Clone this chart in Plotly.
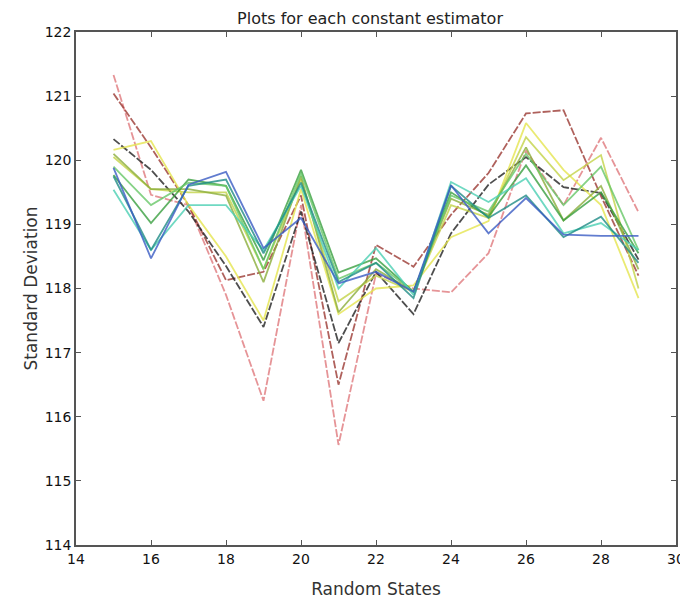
import plotly.graph_objects as go

random_states = list(range(15, 30))

pink = [121.33, 119.46, 119.3, 117.9, 116.25, 119.3, 115.56, 118.23, 118.0, 117.94, 118.55, 120.15, 119.3, 120.35, 119.19]
dark_red = [121.04, 120.2, 119.3, 118.13, 118.26, 119.45, 116.5, 118.68, 118.34, 119.15, 119.8, 120.73, 120.78, 119.44, 118.2]
black = [120.33, 119.85, 119.2, 118.35, 117.4, 119.2, 117.15, 118.26, 117.6, 118.86, 119.62, 120.05, 119.58, 119.49, 118.45]
yellow = [120.16, 120.3, 119.3, 118.5, 117.5, 119.55, 117.6, 118.0, 118.05, 118.8, 119.05, 120.58, 119.85, 119.3, 117.85]
khaki = [120.05, 119.55, 119.5, 119.5, 118.3, 119.7, 117.8, 118.2, 117.95, 119.3, 119.1, 120.36, 119.69, 120.08, 118.0]
olive = [120.1, 119.55, 119.55, 119.45, 118.1, 119.75, 117.63, 118.3, 117.95, 119.4, 119.15, 120.2, 119.06, 119.6, 118.3]
green = [119.77, 119.02, 119.7, 119.6, 118.44, 119.85, 118.25, 118.47, 117.95, 119.5, 119.12, 119.92, 119.06, 119.5, 118.55]
light_green = [119.9, 119.3, 119.65, 119.6, 118.3, 119.8, 118.15, 118.4, 117.95, 119.45, 119.2, 120.1, 119.3, 119.9, 118.6]
teal = [119.54, 118.6, 119.3, 119.3, 118.6, 119.6, 118.0, 118.63, 117.9, 119.66, 119.35, 119.72, 118.86, 119.02, 118.6]
dark_teal = [119.75, 118.6, 119.6, 119.7, 118.55, 119.65, 118.1, 118.4, 117.85, 119.6, 119.1, 119.45, 118.8, 119.12, 118.4]
blue = [119.88, 118.47, 119.62, 119.82, 118.63, 119.1, 118.08, 118.26, 117.95, 119.61, 118.86, 119.41, 118.84, 118.82, 118.82]

series = [
    ("pink", pink, "#e07a7e", "8px,2px"),
    ("dark red", dark_red, "#9c3a34", "8px,2px"),
    ("black", black, "#222222", "8px,2px"),
    ("yellow", yellow, "#e6e650", "solid"),
    ("khaki", khaki, "#c4d448", "solid"),
    ("olive", olive, "#8cae3c", "solid"),
    ("green", green, "#3aa040", "solid"),
    ("light green", light_green, "#68c868", "solid"),
    ("teal", teal, "#4cd0b4", "solid"),
    ("dark teal", dark_teal, "#1f8c86", "solid"),
    ("blue", blue, "#3a5cc4", "solid"),
]

fig = go.Figure()
for name, vals, color, dash in series:
    fig.add_trace(go.Scatter(
        x=random_states, y=vals, mode="lines", name=name,
        line=dict(color=color, width=1.8, dash=dash), opacity=0.8,
    ))

axis_common = dict(
    showgrid=False, zeroline=False, showline=True, linecolor="#555555",
    linewidth=1.5, mirror="ticks", ticks="inside", ticklen=5,
    tickcolor="#555555", automargin=False,
    tickfont=dict(family="DejaVu Sans", size=14, color="#111111"),
)

W, H = 680, 603
fig.update_layout(
    width=W, height=H,
    margin=dict(l=68, r=12, t=24, b=66),
    paper_bgcolor="white", plot_bgcolor="white",
    showlegend=False,
    title=dict(text="Plots for each constant estimator", x=362 / W, xanchor="center",
               y=1 - 5 / H, yanchor="top",
               font=dict(family="DejaVu Sans", size=16, color="#222222")),
    xaxis=dict(range=[14, 30], dtick=2, tick0=14,
               title=dict(text="Random States", standoff=18,
                          font=dict(family="DejaVu Sans", size=17, color="#333333")),
               **axis_common),
    yaxis=dict(range=[114, 122], dtick=1, tick0=114,
               title=dict(text="Standard Deviation", standoff=3,
                          font=dict(family="DejaVu Sans", size=17, color="#333333")),
               **axis_common),
)

fig.write_html("out.html")
